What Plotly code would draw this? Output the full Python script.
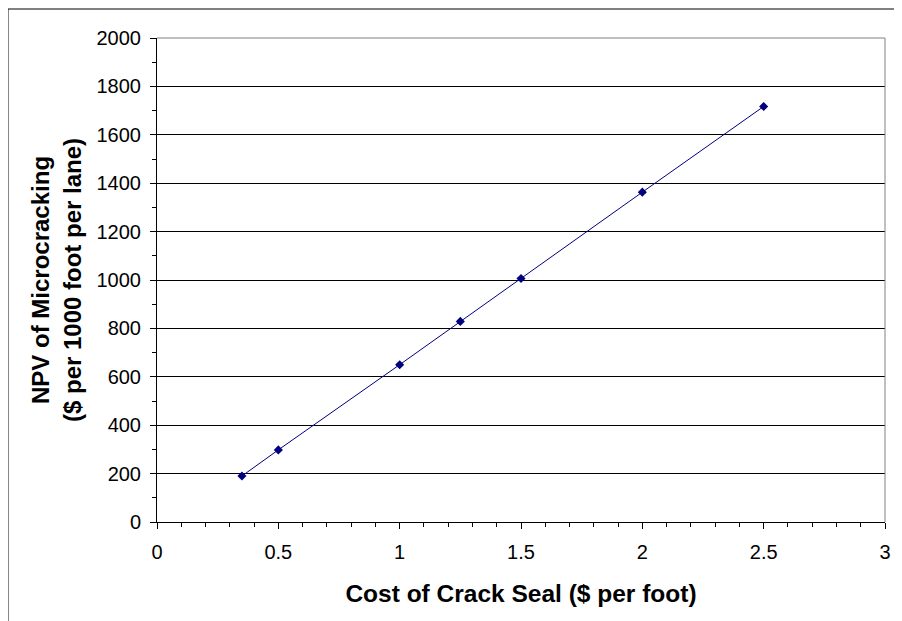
import plotly.graph_objects as go

# Data
crack_seal_cost = [0.35, 0.5, 1.0, 1.25, 1.5, 2.0, 2.5]
npv_microcracking = [190, 298, 650, 829, 1006, 1363, 1717]

x_tick_vals = [0, 0.5, 1, 1.5, 2, 2.5, 3]
x_tick_text = ["0", "0.5", "1", "1.5", "2", "2.5", "3"]
y_tick_vals = [0, 200, 400, 600, 800, 1000, 1200, 1400, 1600, 1800, 2000]

FONT = "Liberation Sans, Arial, sans-serif"

fig = go.Figure()
fig.add_trace(
    go.Scatter(
        x=crack_seal_cost,
        y=npv_microcracking,
        mode="lines+markers",
        line=dict(color="#000080", width=1),
        marker=dict(symbol="diamond", size=7, color="#000080"),
        showlegend=False,
    )
)

fig.update_xaxes(
    range=[0, 3],
    tickvals=x_tick_vals,
    ticktext=x_tick_text,
    showgrid=False,
    zeroline=False,
    showline=True,
    linecolor="black",
    linewidth=1,
    ticks="outside",
    ticklen=6,
    tickcolor="black",
    ticklabelstandoff=6,
    minor=dict(ticks="outside", ticklen=4, dtick=0.1, tickcolor="black"),
    tickfont=dict(family=FONT, size=20, color="black"),
    title=dict(
        text="<b>Cost of Crack Seal ($ per foot)</b>",
        font=dict(family=FONT, size=24.5, color="black"),
        standoff=22,
    ),
)

fig.update_yaxes(
    range=[0, 2000],
    tickvals=y_tick_vals,
    showgrid=True,
    gridcolor="black",
    gridwidth=1,
    zeroline=False,
    showline=True,
    linecolor="black",
    linewidth=1,
    ticks="outside",
    ticklen=6,
    tickcolor="black",
    ticklabelstandoff=5,
    minor=dict(ticks="outside", ticklen=4, dtick=100, tickcolor="black", showgrid=False),
    tickfont=dict(family=FONT, size=20, color="black"),
    title=dict(
        text="<b>NPV of Microcracking<br>($ per 1000 foot per lane)</b>",
        font=dict(family=FONT, size=24, color="black"),
        standoff=8,
    ),
)

# the page adds an 8px body margin, so the figure is 8px smaller than the window
fig.update_layout(
    width=894,
    height=613,
    margin=dict(l=149, r=17, t=30, b=99),
    plot_bgcolor="white",
    paper_bgcolor="white",
    shapes=[
        # grey plot-area border on top and right
        dict(type="line", xref="paper", yref="paper", x0=0, x1=1, y0=1, y1=1,
             line=dict(color="#808080", width=1), layer="above"),
        dict(type="line", xref="paper", yref="paper", x0=1, x1=1, y0=0, y1=1,
             line=dict(color="#808080", width=1), layer="above"),
        # outer chart frame (only the top and left edges fall inside the view)
        dict(type="line", xref="paper", yref="paper", x0=-0.2047, x1=1.05, y0=1.0599, y1=1.0599,
             line=dict(color="black", width=1)),
        dict(type="line", xref="paper", yref="paper", x0=-0.2047, x1=-0.2047, y0=-0.25, y1=1.0599,
             line=dict(color="black", width=1)),
    ],
)

fig.write_html("out.html")
